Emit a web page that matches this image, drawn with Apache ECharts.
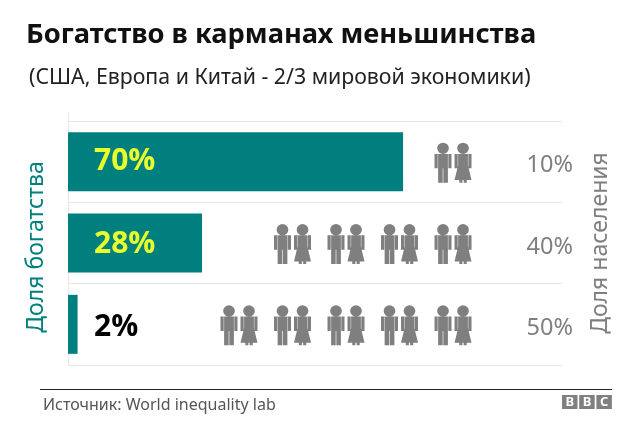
<!DOCTYPE html>
<html>
<head>
<meta charset="utf-8">
<style>
  html, body { margin: 0; padding: 0; background: #fff; }
  #chart { width: 640px; height: 446px; }
</style>
<script src="https://cdn.jsdelivr.net/npm/echarts@6/dist/echarts.min.js"></script>
</head>
<body>
<div id="chart"></div>
<script>
const groups = ['Богатые', 'Средние', 'Бедные']
const wealthShare = [70, 28, 2]
const populationShare = [10, 40, 50]
const populationPerPair = 10

const titleText = 'Богатство в карманах меньшинства'
const subtitleText = '(США, Европа и Китай - 2/3 мировой экономики)'
const sourceText = 'Источник: World inequality lab'
const wealthName = 'Доля богатства'
const populationName = 'Доля населения'

const TEAL = '#007f7f'
const GREY = '#7f7f7f'
const RULE = '#e6e6e6'
const FONT = '"Noto Sans", sans-serif'

const ARMS = 'M0 11H3V25H0ZM13 11H16V25H13Z'
const HEAD = 'M2.5 5.5a5.5 5.5 0 1 0 11 0a5.5 5.5 0 1 0-11 0Z'
const MAN = 'path://' + HEAD + ARMS + 'M3.4 11H12.6V39H8.3V25H7.7V39H3.4Z'
const WOMAN = 'path://' + HEAD + ARMS + 'M3.4 11H12.6V22L16 36.5H11.5V39H8.6V36.5H7.4V39H4.5V36.5H0L3.4 22Z'

// one marker per pair of people, slots counted from the right
const pairs = []
populationShare.forEach((share, row) => {
  for (let slot = 0; slot < share / populationPerPair; slot++) {
    pairs.push([slot, groups[row]])
  }
})

function peopleSeries(symbol, offsetX) {
  return {
    type: 'scatter',
    xAxisIndex: 1,
    yAxisIndex: 0,
    data: pairs,
    symbol,
    symbolSize: [17, 40],
    symbolOffset: [offsetX, 1],
    itemStyle: { color: GREY, opacity: 1 },
    silent: true
  }
}

const bbcBlocks = ['B', 'B', 'C'].map((letter, i) => ({
  type: 'group',
  left: 562 + i * 17.2,
  top: 395,
  children: [
    { type: 'rect', shape: { width: 15.5, height: 14 }, style: { fill: '#808080' } },
    { type: 'text', x: 7.75, y: 7, style: { text: letter, fill: '#fff', font: 'bold 13px ' + FONT, align: 'center', verticalAlign: 'middle' } }
  ]
}))

const chart = echarts.init(document.getElementById('chart'))
chart.setOption({
  animation: false,
  textStyle: { fontFamily: FONT },
  title: [
    { text: titleText, left: 21, top: 17, textStyle: { fontSize: 27.3, fontWeight: 'bold', color: '#111', fontFamily: FONT } },
    { text: subtitleText, left: 24, top: 62, textStyle: { fontSize: 21.3, fontWeight: 'normal', color: '#222', fontFamily: FONT } }
  ],
  grid: { left: 68, right: 78, top: 121, height: 244 },
  xAxis: [
    { type: 'value', min: 0, max: 103.2, show: false },
    { type: 'value', inverse: true, min: -2.037, max: 7.196, show: false }
  ],
  yAxis: [
    {
      type: 'category',
      inverse: true,
      data: groups,
      name: wealthName,
      nameLocation: 'middle',
      nameRotate: 90,
      nameGap: 20,
      nameTextStyle: { color: TEAL, fontSize: 23, fontFamily: FONT, padding: [0, 8, 0, 0] },
      axisLine: { lineStyle: { color: RULE } },
      axisTick: { length: 8, lineStyle: { color: RULE } },
      axisLabel: { show: false },
      splitLine: { show: true, lineStyle: { color: RULE, width: 1 } }
    },
    {
      type: 'category',
      inverse: true,
      position: 'right',
      data: populationShare.map(v => v + '%'),
      name: populationName,
      nameLocation: 'middle',
      nameRotate: 90,
      nameGap: 27,
      nameTextStyle: { color: GREY, fontSize: 23, fontFamily: FONT },
      axisLine: { show: false },
      axisTick: { show: false },
      axisLabel: { color: GREY, fontSize: 23.5, align: 'right', verticalAlign: 'top', lineHeight: 8, margin: 11, fontFamily: FONT },
      splitLine: { show: false }
    }
  ],
  series: [
    {
      type: 'bar',
      xAxisIndex: 0,
      yAxisIndex: 0,
      barWidth: 59,
      data: wealthShare.map((v, i) => ({
        value: v,
        label: { color: v < 5 ? '#000' : '#e9ff2b', position: [26, 29.5 + i * 1.5] }
      })),
      itemStyle: { color: TEAL },
      label: {
        show: true,
        verticalAlign: 'middle',
        formatter: '{c}%',
        fontSize: 30,
        fontWeight: 'bold',
        fontFamily: '"Open Sans", sans-serif'
      }
    },
    peopleSeries(MAN, -10),
    peopleSeries(WOMAN, 10)
  ],
  graphic: [
    { type: 'rect', left: 68, top: 113, shape: { width: 1, height: 8 }, style: { fill: RULE } },
    { type: 'rect', left: 40, top: 389, shape: { width: 572, height: 1 }, style: { fill: '#222' } },
    { type: 'text', left: 43, top: 397, style: { text: sourceText, fill: '#555', font: '16px ' + FONT } }
  ].concat(bbcBlocks)
})
</script>
</body>
</html>
